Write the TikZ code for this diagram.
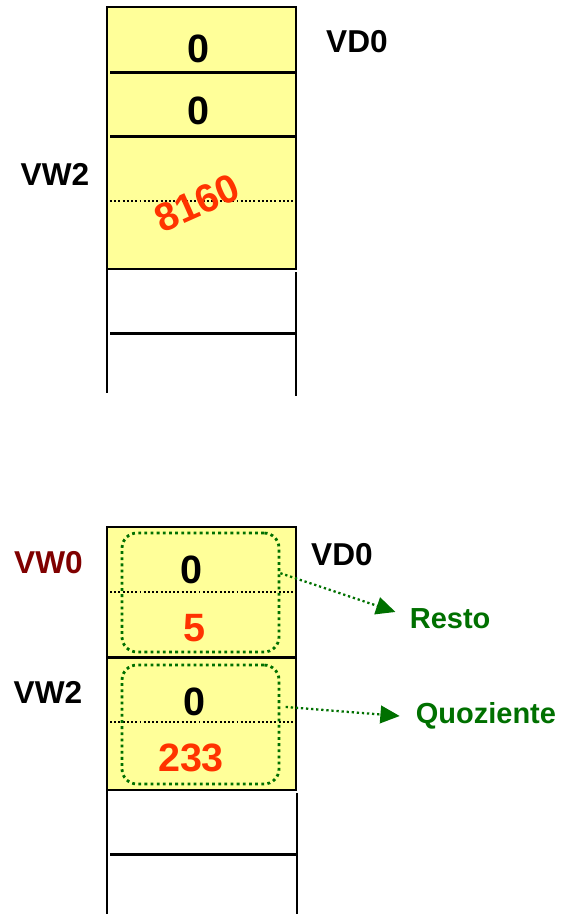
\documentclass[tikz,border=0pt]{standalone}
\usepackage{fontspec}
\setmainfont{Liberation Sans}
\usetikzlibrary{arrows.meta}
\definecolor{cellyellow}{RGB}{255,255,153}
\definecolor{numred}{RGB}{255,51,0}
\definecolor{regred}{RGB}{128,0,0}
\definecolor{pairgreen}{RGB}{0,112,0}
\begin{document}
\begin{tikzpicture}[x=0.02cm,y=-0.02cm,
  wall/.style={line width=1.7pt},
  half/.style={line width=1.1pt,dash pattern=on 1.1pt off 1.3pt},
  num/.style={font=\bfseries\fontsize{22.5}{26}\selectfont},
  reg/.style={font=\bfseries\fontsize{18}{22}\selectfont},
  pairbox/.style={draw=pairgreen,line width=1.6pt,dash pattern=on 1.6pt off 1.9pt,
    rounded corners=8.5pt,minimum width=3.14cm,minimum height=2.38cm,inner sep=0pt},
  pairarrow/.style={pairgreen,line width=1.3pt,dash pattern=on 1.3pt off 1.6pt,
    -{Triangle[length=11pt,width=10pt]}},
  lbl/.style={font=\bfseries\fontsize{16.5}{20}\selectfont,text=pairgreen,anchor=west,inner sep=2pt}]
  \useasboundingbox (0,0) rectangle (574,914);
  % before the division
  \draw[fill=cellyellow,line width=1.1pt] (107,7) rectangle (296,269);
  \draw[wall] (110,72) -- (296,72);
  \draw[wall] (110,136) -- (296,136);
  \draw[half] (110,201) -- (294,201);
  \draw[wall] (107,269) -- (107,393);
  \draw[wall] (296,272) -- (296,396);
  \draw[wall] (110,333) -- (296,333);
  \node[num] (hiA) at (198,49) {0};
  \node[num] (hiB) at (198,111) {0};
  \node[num,text=numred,rotate=24] (dividend) at (197,203) {8160};
  \node[reg] (vdA) at (357,42) {VD0};
  \node[reg] (vwA) at (55,174) {VW2};
  % after the division
  \draw[fill=cellyellow,line width=1.1pt] (107,527) rectangle (296,790);
  \draw[wall] (108,657) -- (296,657);
  \draw[half] (110,592) -- (294,592);
  \draw[half] (110,722) -- (294,722);
  \draw[wall] (107,790) -- (107,914);
  \draw[wall] (297,793) -- (297,914);
  \draw[wall] (110,854) -- (296,854);
  \node[pairbox] (restbox) at (200.5,592.5) {};
  \node[pairbox] (quozbox) at (200.5,724.5) {};
  \node[num] (remHi) at (191,570) {0};
  \node[num,text=numred] (remLo) at (194,628) {5};
  \node[num] (quoHi) at (194,702) {0};
  \node[num,text=numred] (quoLo) at (191,758) {233};
  \node[reg] (vdB) at (342,555) {VD0};
  \node[reg,text=regred] (vwB) at (48.5,563) {VW0};
  \node[reg] (vwC) at (48,692) {VW2};
  \node[lbl] (resto) at (406,619) {Resto};
  \node[lbl] (quoz) at (412,716) {Quoziente};
  \draw[pairarrow] ([yshift=11pt]restbox.east) -- ([xshift=-6pt,yshift=4pt]resto.west);
  \draw[pairarrow] ([xshift=3pt,yshift=10pt]quozbox.east) -- ([xshift=-7pt]quoz.west);
\end{tikzpicture}
\end{document}
